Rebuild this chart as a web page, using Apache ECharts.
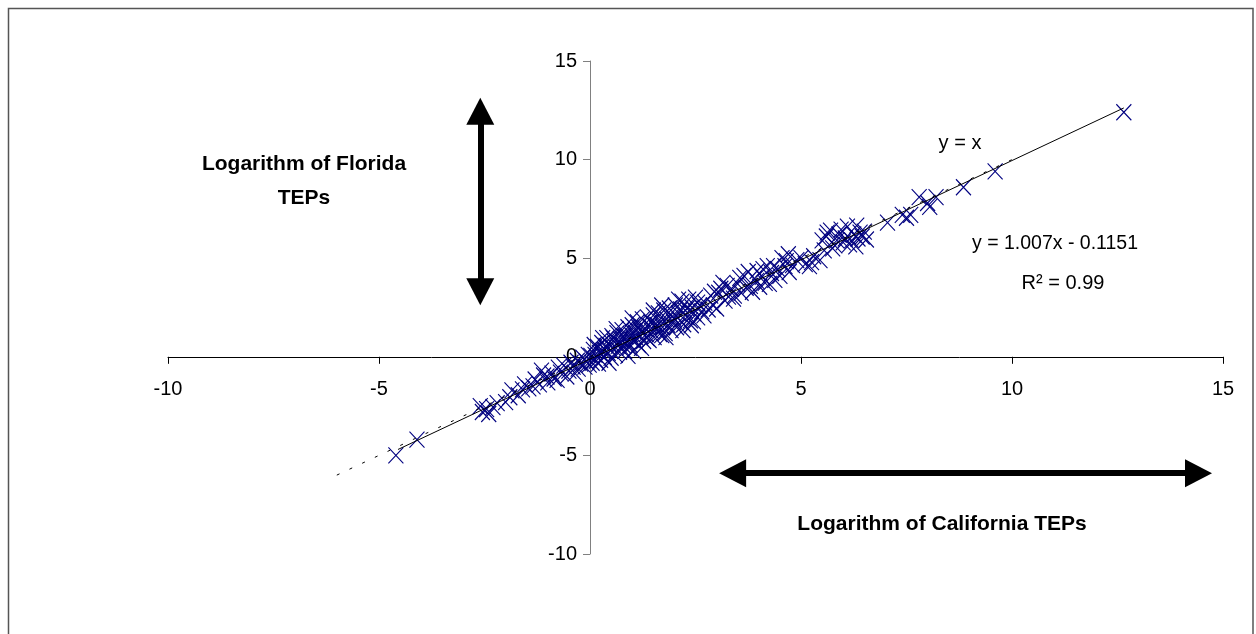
<!DOCTYPE html>
<html>
<head>
<meta charset="utf-8">
<script src="https://cdn.jsdelivr.net/npm/echarts@6/dist/echarts.min.js"></script>
<style>
html,body{margin:0;padding:0;background:#fff;}
#chart{width:1256px;height:634px;}
</style>
</head>
<body>
<div id="chart"></div>
<script>
// Logarithm of California TEPs (x) vs Logarithm of Florida TEPs (y)
var pointsNeg = [
 [-4.6,-5.0],[-4.1,-4.2],[-2.6,-2.5],[-2.55,-2.8],[-2.45,-2.65],[-2.4,-2.9],[-2.3,-2.55],[-2.2,-2.35],
 [-2.0,-2.3],[-1.9,-2.05],[-1.85,-1.7],[-1.7,-1.95],[-1.6,-1.65],[-1.55,-1.4],[-1.45,-1.6],[-1.35,-1.5],
 [-1.3,-1.15],[-1.2,-1.4],[-1.15,-0.7],[-1.1,-0.95],[-1.02,-1.0],[-1.0,-1.3],[-0.9,-0.85],[-0.85,-1.1],
 [-0.78,-1.17],[-0.75,-0.55],[-0.7,-0.8],[-0.62,-0.45],[-0.55,-1.0],[-0.5,-0.7],[-0.45,-0.3],[-0.4,-0.5],
 [-0.35,-0.85],[-0.3,-0.2],[-0.28,-0.6],[-0.22,-0.35],[-0.17,-0.05],[-0.12,-0.5],[-0.08,-0.25],[-0.04,0.1],[-0.02,-0.4]
];
var pointsLow = [
 [0.02,0.05],[0.05,-0.3],[0.08,0.35],[0.12,0.1],[0.15,-0.2],[0.18,0.5],[0.22,0.2],[0.25,-0.15],[0.28,0.7],[0.3,0.3],
 [0.34,0.0],[0.38,0.55],[0.4,0.95],[0.43,0.2],[0.46,0.6],[0.5,-0.05],[0.52,1.05],[0.55,0.45],[0.58,0.75],[0.6,0.1],
 [0.64,1.2],[0.67,0.55],[0.7,0.25],[0.72,0.9],[0.76,1.35],[0.78,0.6],[0.82,0.3],[0.85,1.05],[0.88,0.75],[0.9,1.5],
 [0.93,0.45],[0.96,1.15],[1.0,0.85],[1.0,1.6],[1.03,0.3],[1.06,1.25],[1.1,0.95],[1.12,1.75],[1.15,0.6],[1.18,1.35],
 [1.2,1.05],[1.24,1.9],[1.27,0.8],[1.3,1.45],[1.33,1.15],[1.36,2.0],[1.4,0.85],[1.42,1.55],[1.46,1.3],[1.5,2.1],
 [1.52,1.0],[1.55,1.65],[1.58,1.4],[1.62,2.2],[1.65,1.15],[1.68,1.8],[1.72,1.5],[1.75,2.35],[1.78,1.2],[1.82,1.9],
 [1.85,1.6],[1.88,2.45],[1.92,1.35],[1.95,2.05],[1.98,1.75],[2.02,2.6],[2.05,1.5],[2.1,2.2],[2.14,1.85],[2.18,2.8],
 [2.22,1.65],[2.26,2.35],[2.3,2.0],[2.34,2.9],[2.38,1.85],[2.42,2.5],[2.46,2.2],[2.5,3.0],[2.55,2.0],[2.6,2.6],
 [0.3,0.95],[0.62,1.4],[0.9,0.05],[1.22,0.45],[1.5,2.35],[1.8,1.0],[2.1,2.9],[2.4,1.6],[0.45,-0.3],[1.0,1.95],[1.7,2.6],[2.2,1.35],
 [0.1,0.6],[0.2,-0.35],[0.35,0.35],[0.55,0.95],[0.7,0.7],[0.8,1.05],[0.95,0.6],[1.05,0.85],[1.15,1.5],[1.25,1.2],
 [1.35,0.95],[1.45,1.75],[1.6,1.6],[1.7,1.1],[1.9,2.15],[2.0,1.9],[2.15,2.4],[2.3,2.45],[2.45,1.8],[2.55,2.75]
];
var pointsMid = [
 [2.65,2.3],[2.72,2.75],[2.8,2.4],[2.86,3.1],[2.92,2.6],[3.0,2.45],[3.05,3.25],[3.1,3.45],[3.15,3.75],[3.2,2.85],
 [3.28,3.05],[3.35,3.45],[3.42,3.1],[3.5,3.7],[3.58,3.25],[3.65,4.1],[3.7,3.5],[3.75,4.3],[3.8,3.6],[3.85,3.3],
 [3.9,3.95],[3.96,4.35],[4.02,3.55],[4.08,4.05],[4.15,3.75],[4.2,4.6],[4.25,3.7],[4.3,4.25],[4.38,3.9],[4.45,4.45],
 [4.55,5.0],[4.62,4.6],[4.7,5.2],[4.72,4.3],[4.8,4.65],[4.9,4.9],[5.0,5.0],[5.1,4.7],[5.2,4.6],[5.25,4.8],[5.3,5.1],[5.45,4.9],
 [2.7,2.1],[2.95,3.3],[3.25,3.6],[3.4,2.95],[3.55,4.0],[3.95,3.85],[4.1,4.45],[4.35,4.6],[4.5,4.1],[4.65,4.85]
];
var pointsHigh = [
 [5.5,5.9],[5.55,5.4],[5.6,6.1],[5.62,6.3],[5.7,6.4],[5.75,5.5],[5.8,5.65],[5.85,5.9],[5.9,6.2],[5.95,6.45],
 [6.0,5.8],[6.05,6.0],[6.1,6.6],[6.15,5.7],[6.2,5.9],[6.25,6.2],[6.3,5.6],[6.32,6.65],[6.35,6.0],[6.4,6.3],
 [6.45,6.1],[6.5,6.35],[6.55,5.95],[7.05,6.8],[7.4,7.2],[7.5,7.05],[7.6,7.2],[7.8,8.1],[8.0,7.8],[8.05,7.6],
 [8.2,8.1],[8.85,8.6],[9.6,9.4],[12.65,12.4]
];
var identityLine = [[-6,-6],[10,10]];          // y = x
var trendLine = [[-4.55,-4.70],[12.65,12.62]]; // y = 1.007x - 0.1151
var axisTicks = {min:-10, max:15, step:5};
var floridaArrow = [[-2.6,12.45],[-2.6,3.3]];
var californiaArrow = [[3.38,-5.9],[14.42,-5.9]];

var allPoints = pointsNeg.concat(pointsLow, pointsMid, pointsHigh);
var FONT = '"Liberation Sans", Arial, sans-serif';

var GRID = {left:168,right:33,top:61,bottom:80};
var W = 1256, H = 634;
var plotW = W - GRID.left - GRID.right, plotH = H - GRID.top - GRID.bottom;
var span = axisTicks.max - axisTicks.min;
// offsets to place axes at the zero crossing (axes cross at 0,0)
var xAxisOffset = -plotH * (0 - axisTicks.min) / span;
var yAxisOffset = -plotW * (0 - axisTicks.min) / span;

var chart = echarts.init(document.getElementById('chart'), null, {renderer:'canvas'});
chart.setOption({
  animation:false,
  backgroundColor:'#fff',
  grid:GRID,
  xAxis:{
    type:'value', min:axisTicks.min, max:axisTicks.max, interval:axisTicks.step,
    position:'bottom', offset:xAxisOffset,
    axisLine:{show:true,onZero:false,lineStyle:{color:'#000',width:1}},
    axisTick:{show:true,length:7,lineStyle:{color:'#000'}},
    axisLabel:{margin:23,fontSize:20,color:'#000',fontFamily:FONT,showMinLabel:true,showMaxLabel:true},
    splitLine:{show:false}
  },
  yAxis:{
    type:'value', min:axisTicks.min, max:axisTicks.max, interval:axisTicks.step,
    position:'left', offset:yAxisOffset,
    axisLine:{show:true,onZero:false,lineStyle:{color:'#808080',width:1}},
    axisTick:{show:true,length:7,lineStyle:{color:'#808080'}},
    axisLabel:{margin:13,fontSize:20,color:'#000',fontFamily:FONT,showMinLabel:true,showMaxLabel:true},
    splitLine:{show:false}
  },
  series:[
    {
      type:'scatter', data:allPoints,
      symbol:'path://M0,0L10,10M10,0L0,10', symbolSize:[15,16],
      itemStyle:{color:'rgba(0,0,0,0)',borderColor:'#000080',borderWidth:1.15,opacity:1},
      z:2
    },
    {
      type:'line', data:identityLine, symbol:'none', z:3,
      lineStyle:{color:'#000',width:1,type:[3,11]}
    },
    {
      type:'line', data:trendLine, symbol:'none', z:4,
      lineStyle:{color:'#000',width:1,type:'solid'},
      markLine:{
        silent:true, animation:false,
        symbol:['triangle','triangle'], symbolSize:[28,27],
        label:{show:false},
        lineStyle:{color:'#000',width:6,type:'solid'},
        itemStyle:{color:'#000'},
        data:[
          [{coord:floridaArrow[0]},{coord:floridaArrow[1]}],
          [{coord:californiaArrow[0]},{coord:californiaArrow[1]}]
        ]
      }
    }
  ],
  graphic:[
    {type:'rect',silent:true,shape:{x:8.5,y:8.5,width:1244.5,height:700},style:{fill:'none',stroke:'#555',lineWidth:1.5}},
    {type:'text',x:960,y:143,style:{text:'y = x',font:'20px '+FONT,fill:'#000',align:'center',verticalAlign:'middle'}},
    {type:'text',x:1055,y:244,style:{text:'y = 1.007x - 0.1151',font:'19.5px '+FONT,fill:'#000',align:'center',verticalAlign:'middle'}},
    {type:'text',x:1063,y:283,style:{text:'R² = 0.99',font:'20px '+FONT,fill:'#000',align:'center',verticalAlign:'middle'}},
    {type:'text',x:304,y:164,style:{text:'Logarithm of Florida',font:'bold 21px '+FONT,fill:'#000',align:'center',verticalAlign:'middle'}},
    {type:'text',x:304,y:198,style:{text:'TEPs',font:'bold 21px '+FONT,fill:'#000',align:'center',verticalAlign:'middle'}},
    {type:'text',x:942,y:524,style:{text:'Logarithm of California TEPs',font:'bold 21px '+FONT,fill:'#000',align:'center',verticalAlign:'middle'}}
  ]
});
</script>
</body>
</html>
